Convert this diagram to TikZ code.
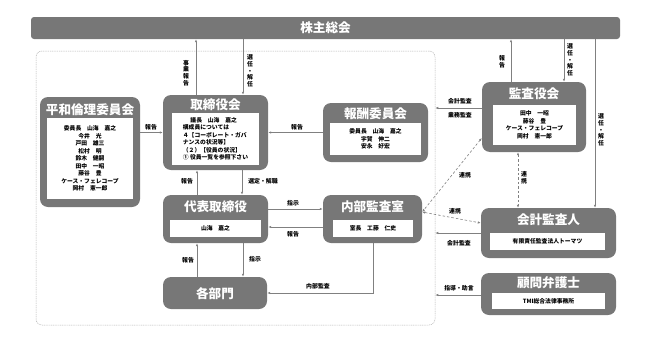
\documentclass[tikz,border=0pt]{standalone}
\usepackage{fontspec}
\setmainfont{Noto Sans CJK JP}
\usetikzlibrary{arrows.meta}
\definecolor{boxgray}{RGB}{119,119,119}
\definecolor{linegray}{RGB}{128,128,128}
\definecolor{framegray}{RGB}{175,175,175}
\tikzset{
  outer/.style={fill=boxgray, rounded corners=8pt, inner sep=0pt},
  ttl/.style={text=white, font=\bfseries\fontsize{12.6}{12.6}\selectfont, inner sep=0pt},
  inbox/.style={fill=white, inner sep=0pt, font=\bfseries\fontsize{5.8}{7.5}\selectfont, align=center},
  lbl/.style={font=\bfseries\fontsize{5.9}{6.4}\selectfont, inner sep=0pt, align=center},
  vlbl/.style={font=\bfseries\fontsize{5.9}{6.6}\selectfont, inner sep=0pt, align=center},
  arr/.style={draw=linegray, line width=0.6pt, -{Latex[length=3pt,width=2.4pt]}},
  darr/.style={draw=linegray, line width=0.6pt, dash pattern=on 2.5pt off 2pt, {Latex[length=3pt,width=2.4pt]}-{Latex[length=3pt,width=2.4pt]}},
  framebox/.style={draw=framegray, line width=0.5pt, dash pattern=on 1pt off 0.8pt, rounded corners=6pt, inner sep=0pt}
}
\begin{document}
\begin{tikzpicture}[x=1pt,y=-1pt]
\useasboundingbox (0,0) rectangle (650,359);
% shareholders
\node[outer, rounded corners=3pt, minimum width=589pt, minimum height=22pt] (kabu) at (325.5,28) {};
\node[ttl] (kabuT) at (kabu) {株主総会};
% frame
\node[framebox, minimum width=399pt, minimum height=274pt] (frame) at (235.5,188) {};
% heiwa
\node[outer, minimum width=100pt, minimum height=110pt] (heiwa) at (90,152) {};
\node[ttl] (heiwaT) at (90,110) {平和倫理委員会};
\node[inbox, minimum width=86pt, minimum height=81pt] (heiwaI) at (90,158.5) {委員長　山海　嘉之\\今井　光\\戸田　雄三\\松村　明\\鈴木　健嗣\\田中　一昭\\藤谷　豊\\ケース・フェレコープ\\岡村　憲一郎};
% torishimariyakukai
\node[outer, minimum width=105pt, minimum height=75pt] (tb) at (215.5,132.5) {};
\node[ttl] (tbT) at (215.5,105) {取締役会};
\node[inbox, align=left, minimum width=87pt, minimum height=52pt] (tbI) at (215.5,139) {\hspace{1.3em}議長　山海　嘉之\\構成員については\\４【コーポレート・ガバ\\ナンスの状況等】\\（２）【役員の状況】\\① 役員一覧を参照下さい};
% hoshu
\node[outer, minimum width=105pt, minimum height=59pt] (hoshu) at (375.5,132.5) {};
\node[ttl] (hoshuT) at (375.5,113.5) {報酬委員会};
\node[inbox, minimum width=91pt, minimum height=32pt] (hoshuI) at (375.5,139) {委員長　山海　嘉之\\宇賀　伸二\\安永　好宏};
% daihyo
\node[outer, minimum width=105pt, minimum height=48pt] (daihyo) at (215.5,219) {};
\node[ttl] (daihyoT) at (215.5,207) {代表取締役};
\node[inbox, minimum width=91pt, minimum height=17pt] (daihyoI) at (215.5,228.5) {山海　嘉之};
% naibu
\node[outer, minimum width=99pt, minimum height=48pt] (naibu) at (372.5,219) {};
\node[ttl] (naibuT) at (372.5,207) {内部監査室};
\node[inbox, minimum width=80pt, minimum height=17pt] (naibuI) at (373,228.5) {室長　工藤　仁史};
% kakubu
\node[outer, minimum width=104pt, minimum height=32pt] (kakubu) at (215,293) {};
\node[ttl] (kakubuT) at (215,293.5) {各部門};
% kansa
\node[outer, minimum width=104pt, minimum height=70pt] (kansa) at (534,117) {};
\node[ttl] (kansaT) at (534,93.5) {監査役会};
\node[inbox, minimum width=83pt, minimum height=40pt] (kansaI) at (534.5,125) {田中　一昭\\藤谷　豊\\ケース・フェレコープ\\岡村　憲一郎};
% kaikei
\node[outer, minimum width=135pt, minimum height=50pt] (kaikei) at (548.5,233) {};
\node[ttl] (kaikeiT) at (548.5,220) {会計監査人};
\node[inbox, minimum width=115pt, minimum height=17pt] (kaikeiI) at (547.5,241.5) {有限責任監査法人トーマツ};
% komon
\node[outer, minimum width=135pt, minimum height=42pt] (komon) at (548.5,294) {};
\node[ttl] (komonT) at (548.5,283) {顧問弁護士};
\node[inbox, minimum width=113pt, minimum height=16pt] (komonI) at (548.5,301) {TMI総合法律事務所};
% helper coordinates
\coordinate (x196) at (196,0);
\coordinate (x243) at (243,0);
\coordinate (x511) at (511,0);
\coordinate (x564) at (564,0);
\coordinate (x595) at (595,0);
\coordinate (x197) at (197,0);
\coordinate (x242) at (242,0);
\coordinate (x373) at (373,0);
\coordinate (x518) at (518,0);
\coordinate (y209) at (0,209);
\coordinate (y227) at (0,227);
\coordinate (y108) at (0,108);
\coordinate (y233) at (0,233);
\coordinate (y295) at (0,295);
\coordinate (y138) at (0,138);
\coordinate (y212) at (0,212);
\coordinate (y223) at (0,223);
% connectors
\draw[arr] (tb.north -| x196) -- (kabu.south -| x196);
\draw[arr] (kabu.south -| x243) -- (tb.north -| x243);
\draw[arr] (kansa.north -| x511) -- (kabu.south -| x511);
\draw[arr] (kabu.south -| x564) -- (kansa.north -| x564);
\draw[arr] (kabu.south -| x595) -- (kaikei.north -| x595);
\draw[arr] (heiwa.east |- tb.west) -- (tb.west);
\draw[arr] (hoshu.west) -- (tb.east);
\draw[arr] (daihyo.north -| x197) -- (tb.south -| x197);
\draw[arr] (tb.south -| x242) -- (daihyo.north -| x242);
\draw[arr] (daihyo.east |- y209) -- (naibu.west |- y209);
\draw[arr] (naibu.west |- y227) -- (daihyo.east |- y227);
\draw[arr] (kakubu.north -| x197) -- (daihyo.south -| x197);
\draw[arr] (daihyo.south -| x243) -- (kakubu.north -| x243);
\draw[arr] (naibu.south -| x373) |- (kakubu.east);
\draw[arr] (kansa.west |- y108) -- (frame.east |- y108);
\draw[arr] (kaikei.west |- y233) -- (frame.east |- y233);
\draw[arr] (komon.west |- y295) -- (frame.east |- y295);
\draw[darr] (kansa.west |- y138) -- (naibu.east |- y212);
\draw[darr] (naibu.east |- y212) -- (kaikei.west |- y223);
\draw[darr] (kansa.south -| x518) -- (kaikei.north -| x518);
% labels
\node[vlbl] (l1) at (186,73) {事\\業\\報\\告};
\node[vlbl] (l2) at (250,71) {選\\任\\・\\解\\任};
\node[vlbl] (l3) at (502,62) {報\\告};
\node[vlbl] (l4) at (570,60) {選\\任\\・\\解\\任};
\node[vlbl] (l5) at (601,130) {選\\任\\・\\解\\任};
\node[lbl] (l6) at (151,127) {報告};
\node[lbl] (l7) at (297,127) {報告};
\node[lbl] (l8) at (187,181) {報告};
\node[lbl] (l9) at (263,181) {選定・解職};
\node[lbl] (l10) at (293,203) {指示};
\node[lbl] (l11) at (293,234) {報告};
\node[lbl] (l12) at (188,260) {報告};
\node[lbl] (l13) at (255,259) {指示};
\node[lbl] (l14) at (318,286) {内部監査};
\node[lbl] (l15) at (460,101) {会計監査};
\node[lbl] (l16) at (460,115) {業務監査};
\node[lbl] (l17) at (459,243) {会計監査};
\node[lbl] (l18) at (459,288.5) {指導・助言};
\node[lbl] (l19) at (465,175) {連携};
\node[lbl] (l20) at (455,211) {連携};
\node[vlbl] (l21) at (524,178) {連\\携};
\end{tikzpicture}
\end{document}
